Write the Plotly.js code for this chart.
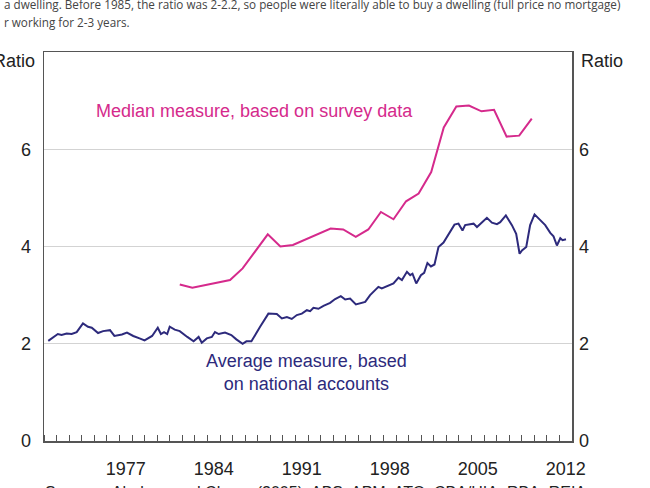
<!DOCTYPE html>
<html>
<head>
<meta charset="utf-8">
<script src="https://cdn.plot.ly/plotly-3.0.1.min.js"></script>
<style>
html,body{margin:0;padding:0;background:#fff;overflow:hidden;}
#chart{width:650px;height:488px;}
</style>
</head>
<body>
<div id="chart"></div>
<script>
// ---- data ----
const medianYears = [1981.8,1982.8,1985.8,1986.8,1988.8,1989.8,1990.8,1993.8,1994.8,1995.8,1996.8,1997.8,1998.8,1999.8,2000.8,2001.8,2002.8,2003.8,2004.8,2005.8,2006.8,2007.8,2008.8,2009.8];
const medianRatio = [3.22,3.15,3.31,3.55,4.25,4.00,4.03,4.37,4.35,4.20,4.35,4.71,4.56,4.93,5.09,5.53,6.45,6.88,6.90,6.78,6.81,6.26,6.28,6.63];

const averageYears = [1971.34,1972.1,1972.4,1972.8,1973.2,1973.6,1974.1,1974.5,1974.8,1975.3,1975.7,1976.25,1976.6,1977.2,1977.6,1978.1,1978.6,1979.0,1979.6,1980.05,1980.3,1980.55,1980.8,1981.0,1981.4,1981.8,1982.4,1982.9,1983.3,1983.55,1983.95,1984.35,1984.6,1984.9,1985.4,1985.9,1986.3,1986.8,1987.1,1987.5,1988.19,1988.85,1989.52,1989.92,1990.32,1990.71,1991.11,1991.51,1991.91,1992.17,1992.43,1992.83,1993.23,1993.76,1994.16,1994.61,1994.96,1995.35,1995.81,1996.28,1996.55,1996.94,1997.6,1997.87,1998.4,1998.8,1999.2,1999.47,1999.87,2000.13,2000.31,2000.61,2000.98,2001.24,2001.5,2001.78,2002.06,2002.38,2002.78,2003.31,2003.65,2003.97,2004.29,2004.5,2005.17,2005.44,2005.84,2006.23,2006.63,2007.03,2007.29,2007.74,2008.22,2008.56,2008.83,2009.02,2009.36,2009.67,2010.02,2010.41,2010.87,2011.27,2011.53,2011.8,2012.07,2012.25,2012.52];
const averageRatio = [2.06,2.20,2.18,2.21,2.20,2.24,2.42,2.35,2.33,2.22,2.26,2.28,2.16,2.19,2.23,2.16,2.11,2.07,2.16,2.33,2.20,2.24,2.20,2.35,2.29,2.26,2.14,2.05,2.14,2.02,2.11,2.14,2.24,2.20,2.23,2.18,2.09,2.00,2.05,2.05,2.35,2.62,2.61,2.52,2.55,2.51,2.59,2.62,2.69,2.67,2.74,2.72,2.78,2.84,2.92,2.98,2.91,2.93,2.81,2.85,2.86,3.00,3.17,3.14,3.20,3.24,3.36,3.31,3.48,3.41,3.44,3.24,3.41,3.46,3.66,3.59,3.63,3.99,4.08,4.30,4.45,4.47,4.33,4.44,4.47,4.40,4.50,4.59,4.49,4.46,4.50,4.64,4.44,4.26,3.85,3.92,3.99,4.44,4.66,4.55,4.44,4.28,4.21,4.02,4.17,4.13,4.15];

const yearLabels = ['1977','1984','1991','1998','2005','2012'];
const yTickVals = [0,2,4,6];

// ---- layout helpers ----
const W = 650, H = 488;
const L = 44, R = 572, T = 52, B = 441;
const px2x = p => (p - L) / (R - L);
const py2y = p => (B - p) / (B - T);

const MAG = '#d52a8c';
const NAVY = '#2d2a7c';
const FONT = 'Liberation Sans, Arial, sans-serif';

const traces = [
  {x: averageYears, y: averageRatio, type: 'scatter', mode: 'lines',
   line: {color: NAVY, width: 2}, xaxis: 'x', yaxis: 'y', hoverinfo: 'skip'},
  {x: medianYears, y: medianRatio, type: 'scatter', mode: 'lines',
   line: {color: MAG, width: 2}, xaxis: 'x', yaxis: 'y2', hoverinfo: 'skip'}
];

const layout = {
  width: W, height: H,
  margin: {l: L, r: W - R, t: T, b: H - B, pad: 0},
  paper_bgcolor: '#fff', plot_bgcolor: '#fff',
  showlegend: false,
  font: {family: FONT, size: 18, color: '#222'},
  xaxis: {
    range: [1971, 2013], fixedrange: true,
    tickmode: 'array',
    tickvals: yearLabels.map(s => Number(s) + 0.5),
    ticktext: yearLabels,
    ticks: '', ticklabelstandoff: 11,
    showgrid: false, zeroline: false,
    showline: true, mirror: true, linecolor: '#555', linewidth: 1.5,
    minor: {tickmode: 'linear', tick0: 1971, dtick: 1, ticks: 'inside', ticklen: 6, tickcolor: '#555', tickwidth: 1, showgrid: false},
    tickfont: {family: FONT, size: 18, color: '#222'}
  },
  yaxis: {
    range: [0, 8], fixedrange: true,
    tickmode: 'array', tickvals: yTickVals, ticktext: yTickVals.map(String),
    ticks: '', ticklabelstandoff: 8,
    showgrid: true, gridcolor: '#d3d3d3', gridwidth: 1,
    zeroline: false,
    showline: true, mirror: true, linecolor: '#555', linewidth: 1.5,
    tickfont: {family: FONT, size: 18, color: '#222'}
  },
  yaxis2: {
    range: [0, 8], fixedrange: true, overlaying: 'y', side: 'right',
    tickmode: 'array', tickvals: yTickVals, ticktext: yTickVals.map(String),
    ticks: '', ticklabelstandoff: 6,
    showgrid: false, zeroline: false, showline: false,
    tickfont: {family: FONT, size: 18, color: '#222'}
  },
  annotations: [
    {xref: 'paper', yref: 'paper', x: px2x(37), y: py2y(61), xanchor: 'right', yanchor: 'middle',
     text: 'Ratio', showarrow: false, font: {family: FONT, size: 18, color: '#222'}},
    {xref: 'paper', yref: 'paper', x: px2x(579), y: py2y(61), xanchor: 'left', yanchor: 'middle',
     text: 'Ratio', showarrow: false, font: {family: FONT, size: 18, color: '#222'}},
    {xref: 'paper', yref: 'paper', x: px2x(94), y: py2y(111), xanchor: 'left', yanchor: 'middle',
     text: 'Median measure, based on survey data', showarrow: false, font: {family: FONT, size: 18, color: MAG}},
    {xref: 'paper', yref: 'paper', x: px2x(306), y: py2y(372), xanchor: 'center', yanchor: 'middle',
     text: 'Average measure, based<br>on national accounts', showarrow: false, align: 'center',
     font: {family: FONT, size: 18, color: NAVY}},
    {xref: 'paper', yref: 'paper', x: px2x(2), y: py2y(4), xanchor: 'left', yanchor: 'middle',
     text: 'a dwelling. Before 1985, the ratio was 2-2.2, so people were literally able to buy a dwelling (full price no mortgage)',
     showarrow: false, font: {family: 'Open Sans, Noto Sans, sans-serif', size: 11.7, color: '#444'}},
    {xref: 'paper', yref: 'paper', x: px2x(2), y: py2y(22), xanchor: 'left', yanchor: 'middle',
     text: 'r working for 2-3 years.',
     showarrow: false, font: {family: 'Open Sans, Noto Sans, sans-serif', size: 11.7, color: '#444'}},
    {xref: 'paper', yref: 'paper', x: px2x(43), y: py2y(492), xanchor: 'left', yanchor: 'middle',
     text: 'Sources: Abelson and Chung (2005); ABS; APM; ATO; CBA/HIA; RBA; REIA',
     showarrow: false, font: {family: FONT, size: 16, color: '#222'}}
  ]
};

Plotly.newPlot('chart', traces, layout, {staticPlot: true, displayModeBar: false});
</script>
</body>
</html>
